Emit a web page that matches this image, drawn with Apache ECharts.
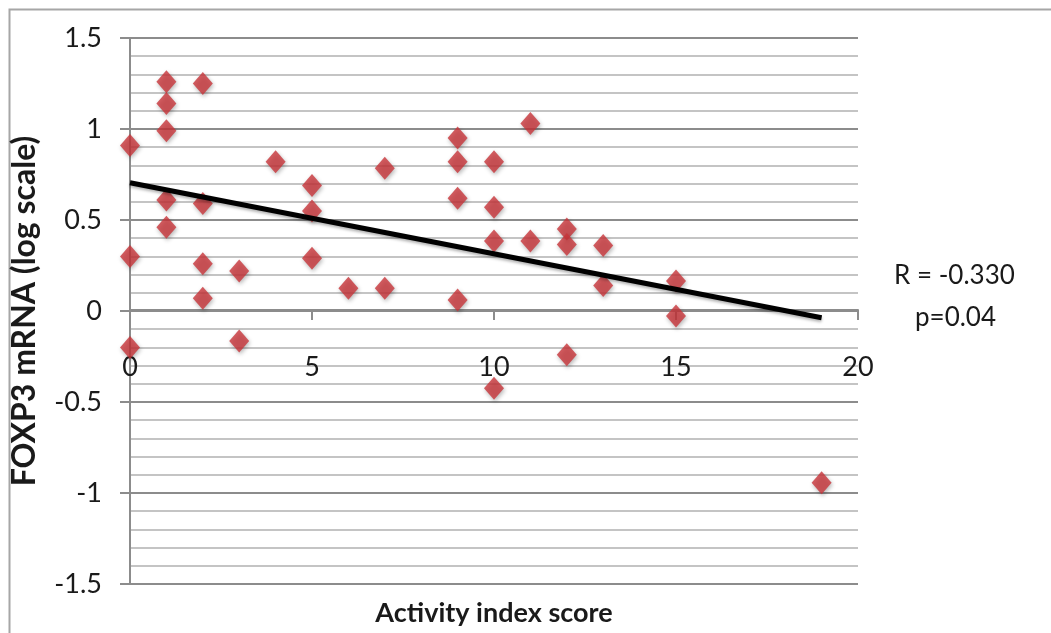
<!DOCTYPE html>
<html>
<head>
<meta charset="utf-8">
<script src="https://cdn.jsdelivr.net/npm/echarts@6/dist/echarts.min.js"></script>
<style>
  html, body { margin: 0; padding: 0; background: #fff; }
  #chart { width: 1051px; height: 633px; }
</style>
</head>
<body>
<div id="chart"></div>
<script>
// activity index score (x) and FOXP3 mRNA, log scale (y)
const activityScore = [0, 0, 0, 1, 1, 1, 1, 1, 2, 2, 2, 2, 3, 3, 4, 5, 5, 5, 6, 7, 7,
    9, 9, 9, 9, 10, 10, 10, 10, 11, 11, 12, 12, 12, 13, 13, 15, 15, 19];
const foxp3 = [0.91, 0.30, -0.20, 1.26, 1.14, 0.99, 0.61, 0.46, 1.25, 0.59, 0.26, 0.07, 0.22, -0.165,
    0.82, 0.69, 0.55, 0.29, 0.125, 0.785, 0.125, 0.95, 0.82, 0.62, 0.06, 0.82, 0.57, 0.385, -0.425,
    1.03, 0.385, 0.45, 0.365, -0.24, 0.36, 0.14, 0.165, -0.027, -0.943];

// trend line end points (as drawn in the picture)
const trendX = [0, 19];
const trendY = [0.705, -0.037];

const statsText = ['R = -0.330', 'p=0.04'];

const font = 'Lato';
const textColor = '#1a1a1a';

const chart = echarts.init(document.getElementById('chart'));

const option = {
    animation: false,
    backgroundColor: '#fff',
    grid: {left: 130, right: 193, top: 38, bottom: 49, outerBoundsMode: 'none', containLabel: false},
    graphic: [
        {
            type: 'rect',
            shape: {x: 9.5, y: 9.5, width: 1100, height: 700},
            style: {fill: 'none', stroke: '#a6a6a6', lineWidth: 2},
            silent: true
        },
        {
            type: 'text', left: 894, top: 263,
            style: {text: statsText[0], font: '26px ' + font, fill: textColor}
        },
        {
            type: 'text', left: 915, top: 305,
            style: {text: statsText[1], font: '26px ' + font, fill: textColor}
        }
    ],
    xAxis: {
        type: 'value',
        min: 0,
        max: 20,
        interval: 5,
        // the x axis crosses at y = 0: shift the whole axis up from the grid bottom
        offset: -274,
        name: 'Activity index score',
        nameLocation: 'middle',
        nameGap: 290,
        nameTextStyle: {fontFamily: font, fontWeight: 'bold', fontSize: 27, color: textColor},
        axisLine: {onZero: false, lineStyle: {color: '#8c8c8c', width: 2}},
        axisTick: {show: true, length: 10, lineStyle: {color: '#8c8c8c', width: 2}},
        axisLabel: {margin: 44, fontFamily: font, fontSize: 27, color: textColor},
        splitLine: {show: false}
    },
    yAxis: {
        type: 'value',
        min: -1.5,
        max: 1.5,
        interval: 0.5,
        name: 'FOXP3 mRNA (log scale)',
        nameLocation: 'middle',
        nameGap: 89,
        nameTextStyle: {fontFamily: font, fontWeight: 'bold', fontSize: 32, color: textColor},
        axisLine: {show: true, lineStyle: {color: '#8c8c8c', width: 2}},
        axisTick: {show: true, length: 10, lineStyle: {color: '#8c8c8c', width: 2}},
        axisLabel: {margin: 28, fontFamily: font, fontSize: 27, color: textColor},
        splitLine: {show: true, lineStyle: {color: '#8c8c8c', width: 2}},
        minorTick: {show: false, splitNumber: 5},
        minorSplitLine: {show: true, lineStyle: {color: '#c4c4c4', width: 2}}
    },
    series: [
        {
            type: 'scatter',
            symbol: 'diamond',
            symbolSize: [20, 23],
            data: activityScore.map((x, i) => [x, foxp3[i]]),
            itemStyle: {
                color: '#c8353a',
                shadowBlur: 4,
                shadowOffsetX: 1,
                shadowOffsetY: 2,
                shadowColor: 'rgba(0,0,0,0.35)'
            },
            z: 3
        },
        {
            type: 'line',
            data: trendX.map((x, i) => [x, trendY[i]]),
            symbol: 'none',
            lineStyle: {
                color: '#000',
                width: 5,
                shadowBlur: 3,
                shadowOffsetY: 2,
                shadowColor: 'rgba(0,0,0,0.3)'
            },
            z: 4
        }
    ]
};

chart.setOption(option);
</script>
</body>
</html>
